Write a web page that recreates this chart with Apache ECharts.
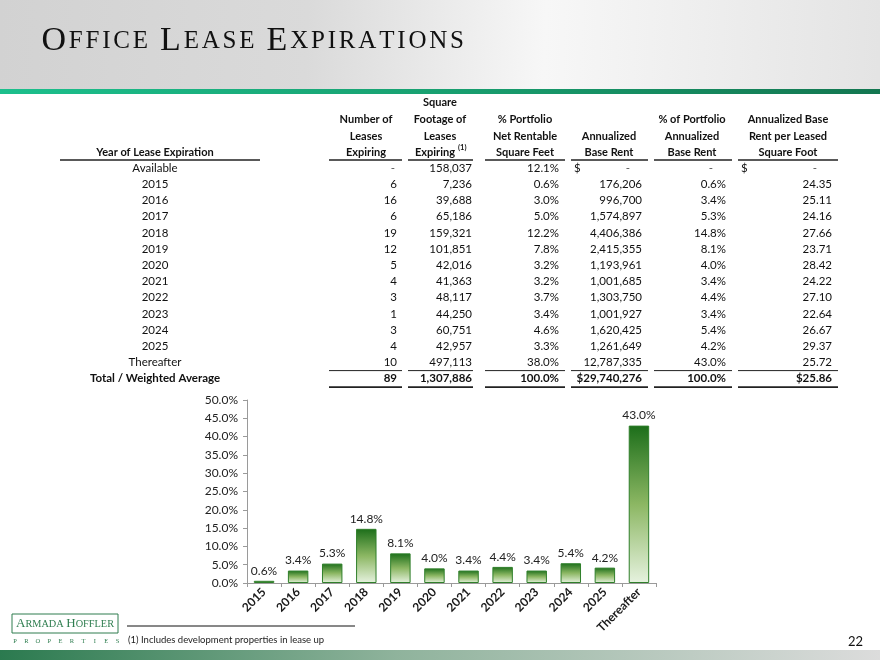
<!DOCTYPE html>
<html><head><meta charset="utf-8">
<script src="https://cdn.jsdelivr.net/npm/echarts@6/dist/echarts.min.js"></script>
<style>html,body{margin:0;padding:0;background:#fff}#c{width:880px;height:660px}</style>
</head><body><div id="c"></div>
<script>
// ---- data ----
const years = ['Available','2015','2016','2017','2018','2019','2020','2021','2022','2023','2024','2025','Thereafter'];
const leases = [null,6,16,6,19,12,5,4,3,1,3,4,10];
const sqft = [158037,7236,39688,65186,159321,101851,42016,41363,48117,44250,60751,42957,497113];
const pctNrsf = [12.1,0.6,3.0,5.0,12.2,7.8,3.2,3.2,3.7,3.4,4.6,3.3,38.0];
const abr = [null,176206,996700,1574897,4406386,2415355,1193961,1001685,1303750,1001927,1620425,1261649,12787335];
const pctAbr = [null,0.6,3.4,5.3,14.8,8.1,4.0,3.4,4.4,3.4,5.4,4.2,43.0];
const abrPsf = [null,24.35,25.11,24.16,27.66,23.71,28.42,24.22,27.10,22.64,26.67,29.37,25.72];
const totalRow = ['Total / Weighted Average','89','1,307,886','100.0%','$29,740,276','100.0%','$25.86'];
const headerLines = [
  ['', '', '', 'Year of Lease Expiration'],
  ['', 'Number of', 'Leases', 'Expiring'],
  ['Square', 'Footage of', 'Leases', 'Expiring'],
  ['', '% Portfolio', 'Net Rentable', 'Square Feet'],
  ['', '', 'Annualized', 'Base Rent'],
  ['', '% of Portfolio', 'Annualized', 'Base Rent'],
  ['', 'Annualized Base', 'Rent per Leased', 'Square Foot']
];
const barCategories = ['2015','2016','2017','2018','2019','2020','2021','2022','2023','2024','2025','Thereafter'];
const barValues = [0.6,3.4,5.3,14.8,8.1,4.0,3.4,4.4,3.4,5.4,4.2,43.0];
const yMin = 0, yMax = 50, yStep = 5;
const titleText = 'Office Lease Expirations';

// ---- layout ----
const FONT = 'Lato, "Open Sans", sans-serif';
const colCenters = [155, 366, 440, 525, 609, 692, 788];
const colRights  = [null, 397, 472, 559, 642, 726, 832];
const segs = [[60,260],[329,402],[408,473],[485,565],[571,648],[654,732],[738,838]];
const headerY = [102, 119, 136, 152];
const underlineY = 160;
const rowY0 = 168, rowH = 16.2;

const fmtInt = v => v.toLocaleString('en-US');
const G = [];
function txt(x, y, s, opt) {
  opt = opt || {};
  G.push({type:'text', x:x, y:y, silent:true, z: 10, style:{
    text:s, fill: opt.fill || '#111', textAlign: opt.align || 'left', textVerticalAlign:'middle',
    font: (opt.weight||'normal') + ' ' + (opt.size||11.5) + 'px ' + (opt.family||FONT)
  }});
}
function line(x1,y1,x2,y2,w,c){
  G.push({type:'line', silent:true, z:10, shape:{x1,y1,x2,y2}, style:{stroke:c||'#222', lineWidth:w||1}});
}

// title band
G.push({type:'rect', silent:true, z:0, shape:{x:0,y:0,width:880,height:90},
  style:{fill:new echarts.graphic.LinearGradient(0,0,1,0.3,[
    {offset:0,color:'#d2d2d2'},{offset:0.35,color:'#dadada'},{offset:0.62,color:'#f7f7f7'},{offset:1,color:'#e4e4e4'}])}});
G.push({type:'rect', silent:true, z:1, shape:{x:0,y:89,width:880,height:5},
  style:{fill:new echarts.graphic.LinearGradient(0,0,1,0,[
    {offset:0,color:'#1cbf8c'},{offset:0.5,color:'#18a070'},{offset:1,color:'#137650'}])}});
// bottom band
G.push({type:'rect', silent:true, z:0, shape:{x:0,y:650,width:880,height:10},
  style:{fill:new echarts.graphic.LinearGradient(0,0,1,0,[
    {offset:0,color:'#2b7a4f'},{offset:0.45,color:'#8fb39c'},{offset:1,color:'#dcdcdc'}])}});
// title (small caps with letter spacing)
(function(){
  const words = titleText.split(' ');
  let rich = '';
  words.forEach((w, wi) => {
    w.split('').forEach((ch, k) => {
      rich += (k === 0 ? '{b|' : '{s|') + ch.toUpperCase() + '}';
    });
    if (wi < words.length - 1) rich += '{sp| }';
  });
  G.push({type:'text', x:40, y:58, silent:true, z:10, style:{
    text:rich, textVerticalAlign:'bottom',
    rich:{ b:{font:'normal 34px "Liberation Serif", serif', fill:'#111', padding:[0,1.4,0,1.4]},
           s:{font:'normal 25px "Liberation Serif", serif', fill:'#111', padding:[0,1.4,0,1.4]},
           sp:{font:'normal 25px "Liberation Serif", serif', fill:'#111', padding:[0,1.5,0,1.5]} },
    font:'normal 25px "Liberation Serif", serif', fill:'#111'
  }});
})();

// header
headerLines.forEach((lines, c) => {
  lines.forEach((s, r) => { if (s) txt(colCenters[c] - (c===2 && r===3 ? 5 : 0), headerY[r], s, {align:'center', weight:'bold', size:11}); });
  line(segs[c][0], underlineY, segs[c][1], underlineY, 1.6, '#222');
});
txt(458, headerY[3]-4, '(1)', {size:7.5, weight:'bold'});

// rows
years.forEach((yr, i) => {
  const y = rowY0 + i*rowH;
  txt(colCenters[0], y, yr, {align:'center'});
  if (leases[i] == null) txt(393, y, '-', {align:'center', fill:'#555'}); else txt(colRights[1], y, String(leases[i]), {align:'right'});
  txt(colRights[2], y, fmtInt(sqft[i]), {align:'right'});
  txt(colRights[3], y, pctNrsf[i].toFixed(1)+'%', {align:'right'});
  if (abr[i] == null) { txt(574, y, '$'); txt(628, y, '-', {align:'center', fill:'#555'}); }
  else txt(colRights[4], y, fmtInt(abr[i]), {align:'right'});
  if (pctAbr[i] == null) txt(711, y, '-', {align:'center', fill:'#555'}); else txt(colRights[5], y, pctAbr[i].toFixed(1)+'%', {align:'right'});
  if (abrPsf[i] == null) { txt(741, y, '$'); txt(815, y, '-', {align:'center', fill:'#555'}); }
  else txt(colRights[6], y, abrPsf[i].toFixed(2), {align:'right'});
});
const totY = rowY0 + years.length*rowH;
txt(colCenters[0], totY, totalRow[0], {align:'center', weight:'bold'});
for (let c = 1; c < 7; c++) {
  txt(colRights[c], totY, totalRow[c], {align:'right', weight:'bold'});
  line(segs[c][0], totY-8, segs[c][1], totY-8, 1, '#222');
  line(segs[c][0], totY+8.5, segs[c][1], totY+8.5, 1.8, '#222');
}

// logo
G.push({type:'rect', silent:true, z:10, shape:{x:12,y:614,width:106,height:19}, style:{fill:'#fff', stroke:'#2e7d4f', lineWidth:1}});
G.push({type:'text', x:65, y:624, silent:true, z:11, style:{
  text:'{b|A}{s|RMADA} {b|H}{s|OFFLER}', textAlign:'center', textVerticalAlign:'middle',
  rich:{b:{font:'normal 13px "Liberation Serif", serif', fill:'#2e7d4f'}, s:{font:'normal 10.3px "Liberation Serif", serif', fill:'#2e7d4f'}},
  font:'normal 10.3px "Liberation Serif", serif', fill:'#2e7d4f'}});
'PROPERTIES'.split('').forEach((ch, k) => {
  txt(15 + k*11.4, 641, ch, {size:6.5, family:'"Liberation Serif", serif', fill:'#2e7d4f', align:'center'});
});
// footnote
line(127, 626, 355, 626, 1, '#111');
txt(128, 640, '(1) Includes development properties in lease up', {size:9.5, fill:'#222'});
txt(863, 642, '22', {size:13, align:'right', fill:'#111'});

const chart = echarts.init(document.getElementById('c'), null, {renderer:'canvas'});
chart.setOption({
  animation:false,
  backgroundColor:'#fff',
  grid:{left:247, right:224, top:400, bottom:77, containLabel:false},
  xAxis:{type:'category', data:barCategories,
    axisLine:{lineStyle:{color:'#9a9a9a'}},
    axisTick:{show:true, length:4, lineStyle:{color:'#9a9a9a'}},
    axisLabel:{rotate:45, fontFamily:FONT, fontWeight:'bold', fontSize:12, color:'#1a1a1a', margin:7, interval:0}},
  yAxis:{type:'value', min:yMin, max:yMax, interval:yStep,
    splitLine:{show:false},
    axisLine:{show:true, lineStyle:{color:'#9a9a9a'}},
    axisTick:{show:true, length:4, lineStyle:{color:'#9a9a9a'}},
    axisLabel:{fontFamily:FONT, fontSize:12, color:'#222', margin:9, formatter:v => v.toFixed(1)+'%'}},
  series:[{type:'bar', data:barValues, barWidth:'60%',
    itemStyle:{borderColor:'#2f7f2a', borderWidth:1,
      color:new echarts.graphic.LinearGradient(0,0,0,1,[
        {offset:0,color:'#1c6e1a'},{offset:0.5,color:'#8cb763'},{offset:1,color:'#e6f2df'}])},
    label:{show:true, position:'top', distance:4, fontFamily:FONT, fontSize:12, color:'#222', formatter:p => p.value.toFixed(1)+'%'}
  }],
  graphic: G
});
</script></body></html>
